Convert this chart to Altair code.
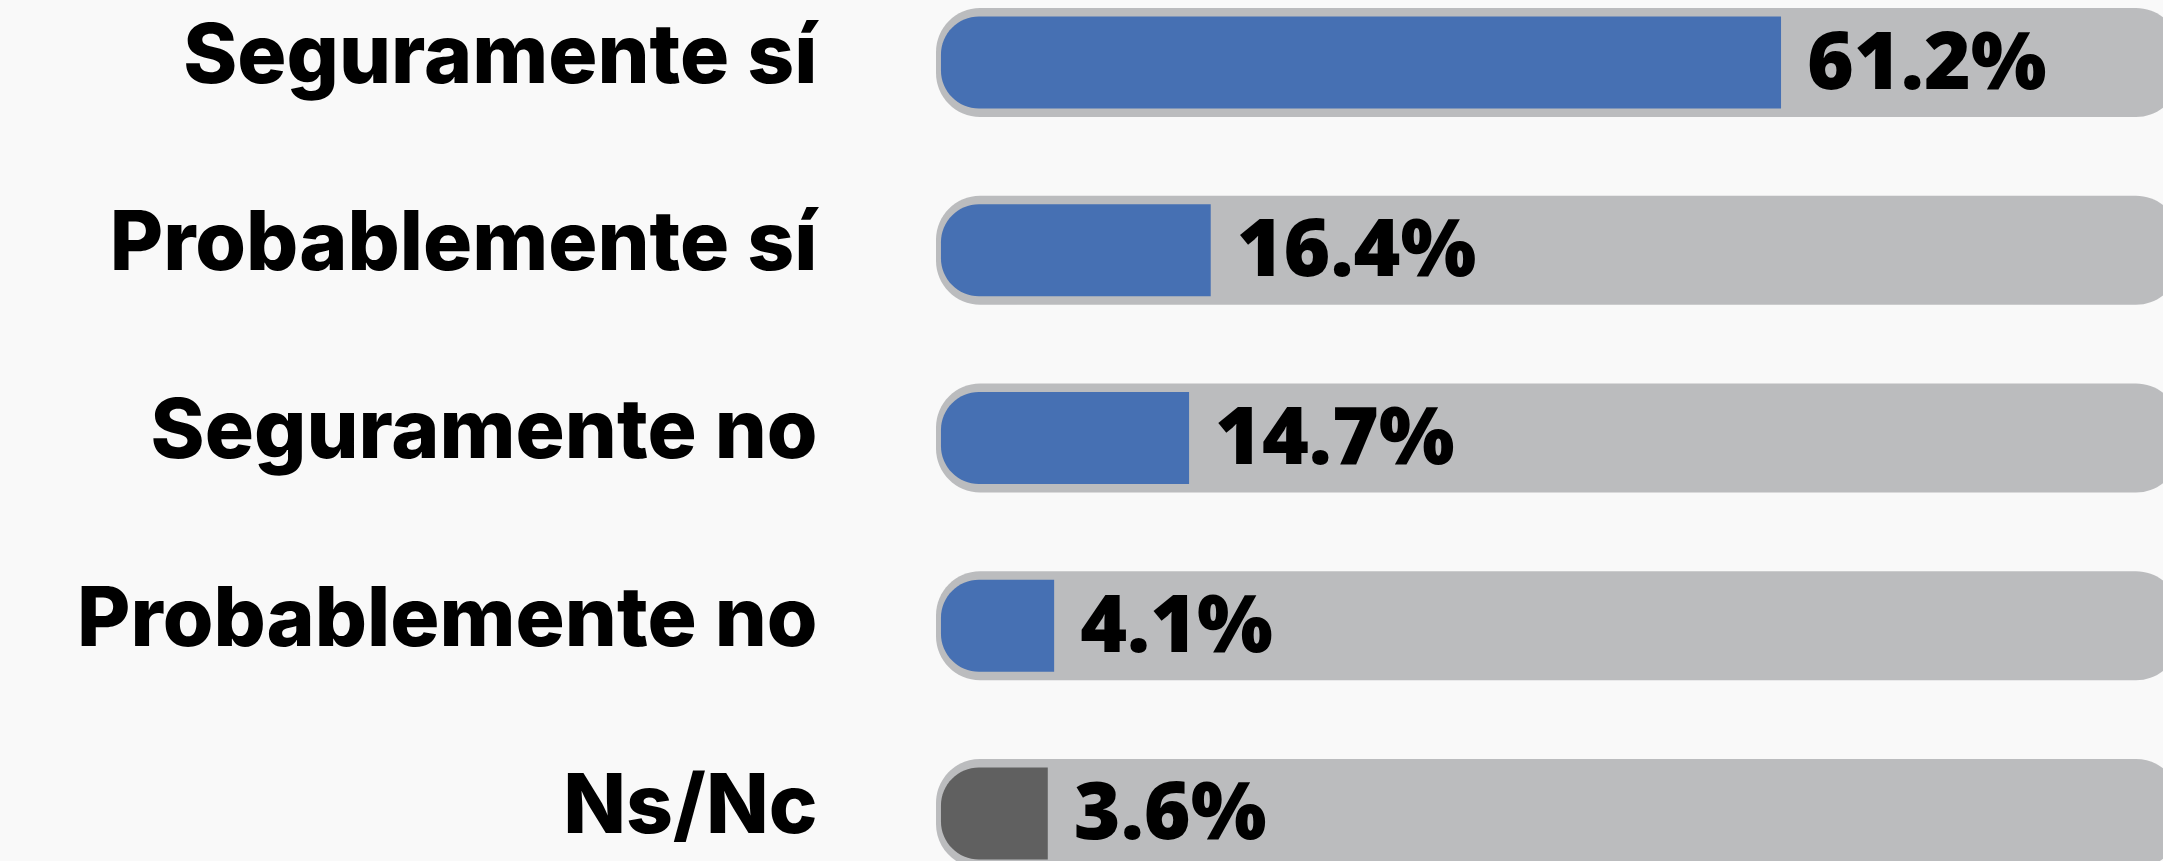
import altair as alt
import pandas as pd

categories = ["Seguramente sí", "Probablemente sí", "Seguramente no", "Probablemente no", "Ns/Nc"]
values = [61.2, 16.4, 14.7, 4.1, 3.6]
bar_colors = ["#4670b3", "#4670b3", "#4670b3", "#4670b3", "#606060"]

df = pd.DataFrame({"cat": categories, "value": values, "color": bar_colors})

LABEL_FONT = "Inter"
VALUE_FONT = "Open Sans"
X_MIN, X_MAX = -5.18, 92.54
BAR_START = -4.79

yscale = alt.Scale(domain=categories, range=[0, 876], paddingInner=0.4194,
                   paddingOuter=0.0426, align=0.5)
xscale = alt.Scale(domain=[X_MIN, X_MAX], range=[0, 1244], nice=False, zero=False)

y_enc = alt.Y("cat:N", scale=yscale, sort=categories,
              axis=alt.Axis(title=None, ticks=False, domain=False, grid=False,
                            labelFont=LABEL_FONT, labelFontSize=82, labelFontWeight=800,
                            labelColor="#000000", labelPadding=119, labelLimit=1000,
                            labelOffset=-5, labelAlign="right"))

track = alt.Chart(df).mark_bar(color="#bbbcbe", size=109, cornerRadius=44, clip=True).encode(
    x=alt.datum(X_MIN, scale=xscale, axis=None),
    x2=alt.datum(X_MAX),
    y=y_enc,
)

bars = alt.Chart(df).mark_bar(size=92, cornerRadiusTopLeft=38, cornerRadiusBottomLeft=38,
                              clip=True).encode(
    x=alt.X("value:Q", scale=xscale, axis=None),
    x2=alt.datum(BAR_START),
    y=alt.Y("cat:N", sort=categories),
    color=alt.Color("color:N", scale=None),
)

labels = alt.Chart(df).transform_calculate(
    label="format(datum.value, '.1f') + '%'"
).mark_text(align="left", baseline="middle", dx=26, dy=2, font=VALUE_FONT, fontSize=80,
            fontWeight=800, color="#000000", clip=True).encode(
    x=alt.X("value:Q", scale=xscale, axis=None),
    y=alt.Y("cat:N", sort=categories),
    text="label:N",
)

chart = alt.layer(track, bars, labels).properties(
    width=1227, height=861,
    autosize=alt.AutoSizeParams(type="none"),
    padding={"left": 936, "top": 0, "right": 0, "bottom": 0},
    background="#f9f9f9",
).configure_view(stroke=None)

chart.save("out.html", embed_options={"renderer": "svg", "actions": False})
